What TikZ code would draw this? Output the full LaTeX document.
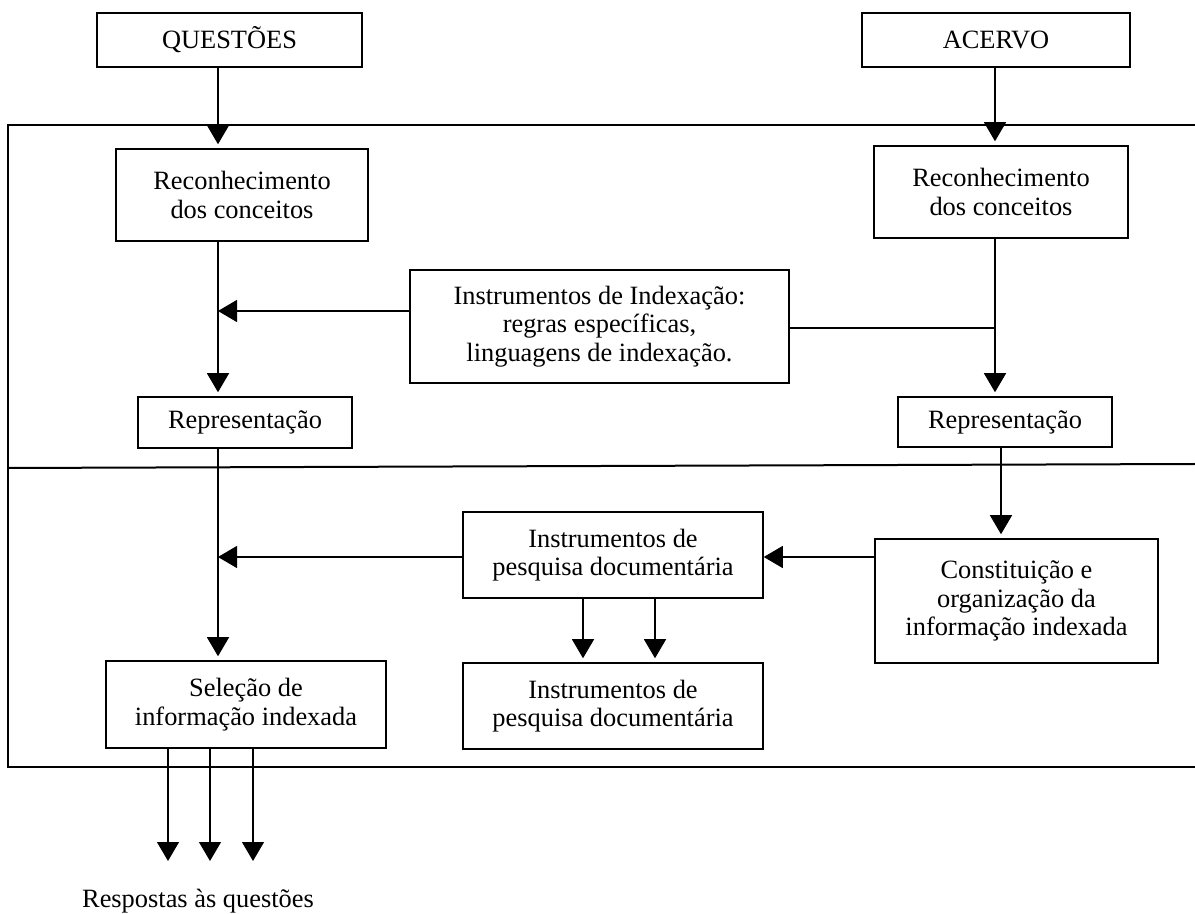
\documentclass[tikz,border=0pt]{standalone}
\usepackage{fontspec}
\setmainfont{Liberation Serif}
\usetikzlibrary{arrows.meta}

\begin{document}
\begin{tikzpicture}[x=0.5pt, y=-0.5pt,
  every node/.style = {font=\fontsize{13.2pt}{14.25pt}\selectfont},
  caixa/.style = {shape=rectangle, draw, line width=0.75pt,
    align=center, inner sep=0pt},
  tam/.style 2 args = {minimum width=#1*0.5pt, minimum height=#2*0.5pt},
  setah/.style = {line width=0.6pt, -{Triangle[length=9.5pt,width=11pt]}},
  seta/.style = {setah, shorten >=2pt},
  liga/.style = {line width=0.6pt},
  moldura/.style = {line width=1pt}]
  \useasboundingbox (0,0) rectangle (1195,914);

  % moldura com as duas faixas
  \draw[moldura] (1195,125) -| (8,767) -- (1195,767);
  \draw[moldura] (8,468) -- (1195,464);

  % caixas
  \node[caixa, tam={265}{54}] (ques) at (229.5,40) {QUESTÕES};
  \node[caixa, tam={268}{54}] (acervo) at (996,40) {ACERVO};
  \node[caixa, tam={252}{92}] (recE) at (242,195) {Reconhecimento\\dos conceitos};
  \node[caixa, tam={254}{92}] (recD) at (1001,192) {Reconhecimento\\dos conceitos};
  \node[caixa, tam={379}{113}] (indx) at (599.5,326.5)
    {Instrumentos de Indexação:\\regras específicas,\\linguagens de indexação.};
  \node[caixa, tam={214}{51}] (repE) at (245,422.5) {Representação};
  \node[caixa, tam={214}{50}] (repD) at (1005,422) {Representação};
  \node[caixa, tam={300}{86}] (instA) at (613,555) {Instrumentos de\\pesquisa documentária};
  \node[caixa, tam={283}{124}] (const) at (1016.5,601)
    {Constituição e\\organização da\\informação indexada};
  \node[caixa, tam={300}{86}] (instB) at (613,706) {Instrumentos de\\pesquisa documentária};
  \node[caixa, tam={280}{87}] (selec) at (246,704.5) {Seleção de\\informação indexada};
  \node[anchor=base] (resp) at (198,907) {Respostas às questões};

  % pontos de passagem
  \coordinate (xE) at (218,0);
  \coordinate (xD) at (995,0);
  \coordinate (xD2) at (1001,0);
  \coordinate (yE) at (0,311);
  \coordinate (yD) at (0,328);
  \coordinate (yC) at (0,557);
  \coordinate (a1) at (583,0);
  \coordinate (a2) at (655,0);
  \foreach \x [count=\i] in {168,210,253}
    \coordinate (r\i) at (\x,861);

  % lado das questoes
  \draw[seta] (ques.south -| xE) -- (recE.north -| xE);
  \draw[seta] (recE.south -| xE) -- (repE.north -| xE);
  \draw[setah] (indx.west |- yE) -- (yE -| xE);
  \draw[seta] (repE.south -| xE) -- (selec.north -| xE);
  \draw[setah] (instA.west |- yC) -- (yC -| xE);

  % lado do acervo
  \draw[seta] (acervo.south -| xD) -- (recD.north -| xD);
  \draw[seta] (recD.south -| xD) -- (repD.north -| xD);
  \draw[liga] (indx.east |- yD) -- (yD -| xD);
  \draw[seta] (repD.south -| xD2) -- (const.north -| xD2);
  \draw[setah] (const.west |- yC) -- (instA.east |- yC);

  % saidas
  \foreach \a in {a1,a2}
    \draw[seta] (instA.south -| \a) -- (instB.north -| \a);
  \foreach \i in {1,2,3}
    \draw[setah] (selec.south -| r\i) -- (r\i);
\end{tikzpicture}
\end{document}
